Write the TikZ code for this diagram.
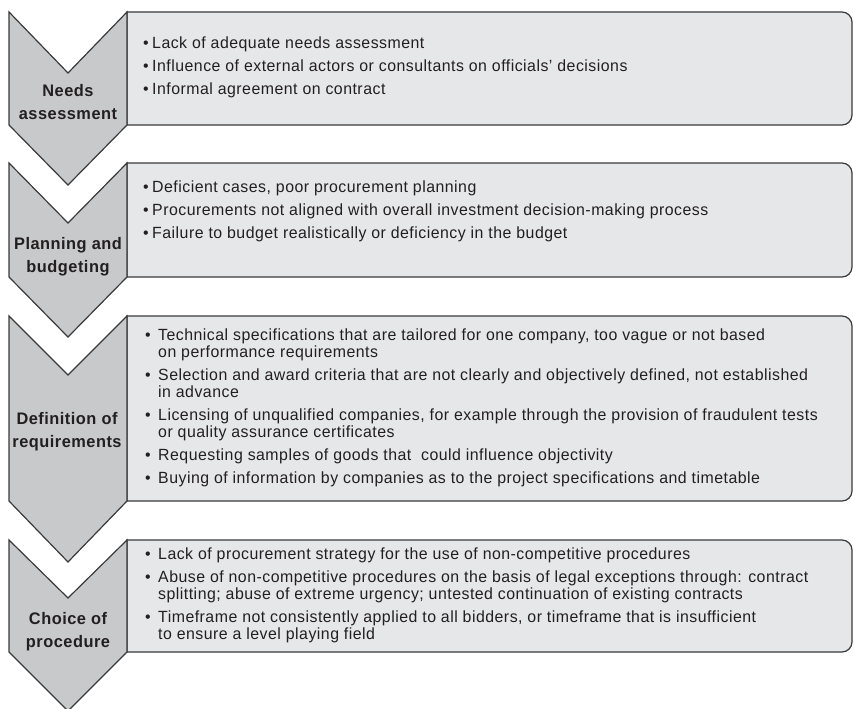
\documentclass[tikz,border=0pt]{standalone}
\usepackage{fontspec}
\setmainfont{Liberation Sans}[FakeStretch=0.98, LetterSpace=3]
\definecolor{chevfill}{HTML}{C8C9CA}
\definecolor{boxfill}{HTML}{E6E7E8}
\definecolor{edge}{HTML}{3A3A3A}
\definecolor{ink}{HTML}{231F20}
\newcommand{\bl}{\textbullet}
\tikzset{
  chev/.style={draw=edge, fill=chevfill, line width=1.2pt, line join=miter},
  itembox/.style={draw=edge, fill=boxfill, line width=1.2pt},
  body/.style={inner sep=0pt, anchor=west, text=ink, font=\fontsize{16.2}{17}\selectfont},
  lbl/.style={inner sep=0pt, align=center, text=ink, font=\fontsize{16.7}{23}\selectfont\bfseries}
}
\begin{document}
\begin{tikzpicture}[x=1pt, y=-1pt]
\useasboundingbox (0,0) rectangle (854,709);
% boxes (right corners rounded)
\foreach \t/\b in {12/125, 163/277, 316/501, 540/652}{
  \draw[itembox] (127,\t) -- (842,\t) .. controls (847.5,\t) and (852,\t+4.5) .. (852,\t+10)
    -- (852,\b-10) .. controls (852,\b-4.5) and (847.5,\b) .. (842,\b) -- (127,\b) -- cycle;
}
% chevrons
\foreach \t/\n/\b/\p in {12/73/125/185, 163/223/277/337, 316/375/501/562, 540/598/652/711}{
  \draw[chev] (9,\t) -- (68,\n) -- (127,\t) -- (127,\b) -- (68,\p) -- (9,\b) -- cycle;
}
% labels
\node[lbl] (l1) at (68,102.5) {Needs\\assessment};
\node[lbl] (l2) at (68,257) {Planning and\\budgeting};
\node[lbl] (l3) at (67,432) {Definition of\\requirements};
\node[lbl] (l4) at (68,632) {Choice of\\procedure};
% contents
\node[body] (c1) at (143,68.5) {\begin{tabular}{@{}p{9pt}@{}l@{}}
\bl & Lack of adequate needs assessment\\[6pt]
\bl & Influence of external actors or consultants on officials' decisions\\[6pt]
\bl & Informal agreement on contract
\end{tabular}};
\node[body] (c2) at (143,212) {\begin{tabular}{@{}p{9pt}@{}l@{}}
\bl & Deficient cases, poor procurement planning\\[6pt]
\bl & Procurements not aligned with overall investment decision-making process\\[6pt]
\bl & Failure to budget realistically or deficiency in the budget
\end{tabular}};
\node[body] (c3) at (145,408.5) {\begin{tabular}{@{}p{13pt}@{}l@{}}
\bl & Technical specifications that are tailored for one company, too vague or not based\\
 & on performance requirements\\[6pt]
\bl & Selection and award criteria that are not clearly and objectively defined, not established\\
 & in advance\\[6pt]
\bl & Licensing of unqualified companies, for example through the provision of fraudulent tests\\
 & or quality assurance certificates\\[6pt]
\bl & Requesting samples of goods that \ could influence objectivity\\[6pt]
\bl & Buying of information by companies as to the project specifications and timetable
\end{tabular}};
\node[body] (c4) at (145,596) {\begin{tabular}{@{}p{13pt}@{}l@{}}
\bl & Lack of procurement strategy for the use of non-competitive procedures\\[6pt]
\bl & Abuse of non-competitive procedures on the basis of legal exceptions through: contract\\
 & splitting; abuse of extreme urgency; untested continuation of existing contracts\\[6pt]
\bl & Timeframe not consistently applied to all bidders, or timeframe that is insufficient\\
 & to ensure a level playing field
\end{tabular}};
\end{tikzpicture}
\end{document}
